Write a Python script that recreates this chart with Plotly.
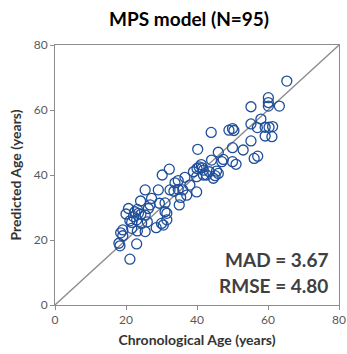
import plotly.graph_objects as go

chron_age = [65.3, 60.1, 60.1, 60.1, 63.2, 55.2, 58.0, 55.2, 57.0, 59.2,
             60.3, 61.3, 59.2, 61.1, 55.2, 44.0, 49.0, 50.0, 50.4, 53.0,
             50.0, 56.1, 57.1, 46.0, 40.2, 47.0, 50.0, 51.0, 44.1, 40.6,
             41.5, 41.2, 41.8, 39.0, 43.5, 45.5, 46.0, 45.1, 41.8, 39.9,
             42.7, 44.6, 36.6, 32.2, 30.2, 33.8, 34.7, 38.0, 32.4, 34.7,
             36.0, 35.4, 35.0, 37.1, 39.9, 33.5, 25.4, 29.1, 27.2, 24.1,
             29.4, 23.2, 26.3, 20.0, 22.1, 21.1, 21.6, 24.2, 26.0, 31.0,
             31.5, 31.5, 30.0, 30.5, 28.5, 25.4, 23.2, 19.1, 19.1, 18.0,
             18.3, 23.0, 21.1, 26.8, 31.0, 20.7, 22.5, 23.5, 25.4, 23.0,
             24.4, 21.6, 18.5, 47.4, 40.0]
pred_age = [68.9, 63.8, 62.3, 61.2, 61.2, 61.0, 57.2, 55.7, 54.6, 54.7,
            54.7, 54.9, 52.0, 51.8, 50.5, 53.1, 53.8, 54.3, 53.7, 47.7,
            48.4, 45.1, 45.8, 47.0, 47.9, 44.1, 44.1, 43.3, 44.6, 42.5,
            42.2, 43.2, 41.5, 41.0, 41.0, 41.2, 40.5, 39.8, 40.0, 39.5,
            40.0, 39.0, 39.3, 41.8, 40.0, 37.6, 38.3, 36.9, 35.4, 35.6,
            35.4, 33.1, 30.8, 33.8, 34.8, 35.0, 35.4, 35.4, 32.8, 32.0,
            31.3, 29.4, 29.7, 28.0, 27.2, 25.9, 25.4, 27.9, 25.6, 28.7,
            28.2, 26.2, 25.1, 24.6, 23.8, 22.6, 22.8, 23.1, 21.3, 19.0,
            18.2, 18.8, 14.1, 30.8, 31.4, 29.7, 28.7, 28.2, 27.7, 26.2,
            25.1, 23.6, 22.2, 44.8, 42.0]

identity = [0, 80]
tick_vals = [0, 20, 40, 60, 80]
title_text = "MPS model (N=95)"
x_title = "Chronological Age (years)"
y_title = "Predicted Age (years)"
stats_lines = ["MAD = 3.67", "RMSE = 4.80"]

FONT = "Lato"
grey_txt = "#595959"

fig = go.Figure()
fig.add_trace(go.Scatter(x=identity, y=identity, mode="lines",
                         line=dict(color="#8c8c8c", width=1.3),
                         hoverinfo="skip", showlegend=False))
fig.add_trace(go.Scatter(x=chron_age, y=pred_age, mode="markers",
                         marker=dict(symbol="circle-open", size=10,
                                     color="#1f4e9a", line=dict(width=1.3)),
                         showlegend=False))

axis_common = dict(range=[0, 80], tickvals=tick_vals, showgrid=False,
                   zeroline=False, showline=True, linecolor="#8c8c8c",
                   linewidth=1, mirror=True, ticks="outside", ticklen=4,
                   tickcolor="#8c8c8c", automargin=False,
                   tickfont=dict(family=FONT, size=12, color=grey_txt))
fig.update_xaxes(**axis_common,
                 title=dict(text=f"<b>{x_title}</b>", standoff=8,
                            font=dict(family=FONT, size=14, color="#333333")))
fig.update_yaxes(**axis_common,
                 title=dict(text=f"<b>{y_title}</b>", standoff=8,
                            font=dict(family=FONT, size=14, color="#333333")))

fig.add_annotation(x=0.97, y=0.175, xref="paper", yref="paper",
                   text=f"<b>{stats_lines[0]}</b>", showarrow=False,
                   xanchor="right", yanchor="middle",
                   font=dict(family=FONT, size=19, color="#404040"))
fig.add_annotation(x=0.97, y=0.075, xref="paper", yref="paper",
                   text=f"<b>{stats_lines[1]}</b>", showarrow=False,
                   xanchor="right", yanchor="middle",
                   font=dict(family=FONT, size=19, color="#404040"))

fig.update_layout(
    width=347, height=354,
    margin=dict(l=55, r=8, t=45, b=49, autoexpand=False),
    paper_bgcolor="white", plot_bgcolor="white",
    title=dict(text=f"<b>{title_text}</b>", x=0.545, xanchor="center",
               y=0.945, yanchor="middle",
               font=dict(family=FONT, size=19, color="#000000")),
)

fig.write_html("out.html")
